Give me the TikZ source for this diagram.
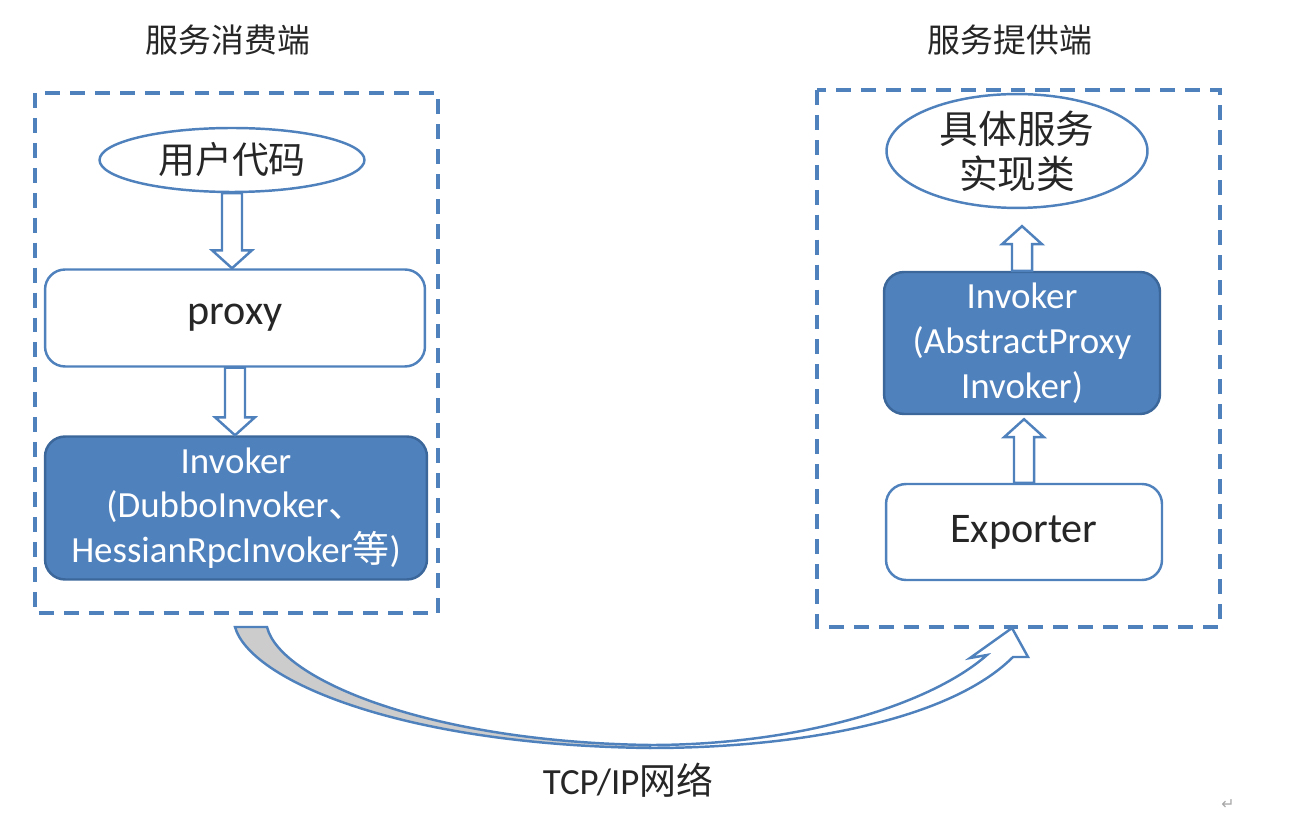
\documentclass[tikz,border=0pt]{standalone}
\usepackage{fontspec}
\setmainfont{Carlito}
\newfontfamily\cjk{Noto Sans CJK SC}
\newfontfamily\symfont{DejaVu Sans}
\usetikzlibrary{shapes.geometric,calc}
\definecolor{officeblue}{HTML}{4F81BD}
\definecolor{darkblue}{HTML}{3B679B}
\definecolor{textgray}{HTML}{262626}
\tikzset{
  dashbox/.style={draw=officeblue,line width=1.8pt,dash pattern=on 8.5pt off 5.7pt},
  ellnode/.style={ellipse,draw=officeblue,line width=1.4pt,fill=white,text=textgray,inner sep=0pt},
  whitebox/.style={rectangle,rounded corners=0.4cm,draw=officeblue,line width=1.4pt,fill=white,text=textgray,font=\fontsize{24}{28}\selectfont},
  bluebox/.style={rectangle,rounded corners=0.4cm,draw=darkblue,line width=1.4pt,fill=officeblue,text=white,align=center,font=\fontsize{21}{25.5}\selectfont},
  hollow/.style={draw=officeblue,line width=1.4pt,fill=white,line join=miter},
  title/.style={text=textgray,font=\cjk\fontsize{18.7}{22}\selectfont}
}
% hollow block arrows, shaft from #1 to tip #2
\newcommand{\downarrowblk}[2]{\draw[hollow] let \p1=(#1), \p2=(#2) in (\x1-5.7pt,\y1) -- (\x1-5.7pt,\y2+10.2pt) -- (\x1-11.3pt,\y2+10.2pt) -- (\x1,\y2) -- (\x1+11.3pt,\y2+10.2pt) -- (\x1+5.7pt,\y2+10.2pt) -- (\x1+5.7pt,\y1) -- cycle;}
\newcommand{\uparrowblk}[2]{\draw[hollow] let \p1=(#1), \p2=(#2) in (\x1-5.7pt,\y1) -- (\x1-5.7pt,\y2-10.2pt) -- (\x1-11.3pt,\y2-10.2pt) -- (\x1,\y2) -- (\x1+11.3pt,\y2-10.2pt) -- (\x1+5.7pt,\y2-10.2pt) -- (\x1+5.7pt,\y1) -- cycle;}
\begin{document}
\begin{tikzpicture}[x=0.02cm,y=-0.02cm]
	\useasboundingbox (0,0) rectangle (1310,830);
	% consumer side
	\node[title] (consumer) at (228,40) {服务消费端};
	\draw[dashbox] (35,93) rectangle (438,613);
	\node[ellnode,minimum width=5.3cm,minimum height=1.28cm,font=\cjk\fontsize{21}{25}\selectfont] (usercode) at (232,160) {用户代码};
	\node[whitebox,minimum width=7.6cm,minimum height=1.94cm] (proxy) at (235,318) {\raisebox{-3pt}{proxy}};
	\node[bluebox,minimum width=7.64cm,minimum height=2.86cm] (cinvoker) at (236,508) {Invoker\\(DubboInvoker{\cjk 、}\\HessianRpcInvoker{\cjk 等})};
	\downarrowblk{usercode.south}{proxy.north}
	\downarrowblk{proxy.south}{cinvoker.north}
	% provider side
	\node[title] (provider) at (1010,40) {服务提供端};
	\draw[dashbox] (817,90) rectangle (1220,627);
	\node[ellnode,minimum width=5.22cm,minimum height=1.86cm,align=center,font=\cjk\fontsize{22}{25.5}\selectfont] (impl) at (1017,151) {具体服务\\实现类};
	\node[bluebox,minimum width=5.52cm,minimum height=2.84cm] (pinvoker) at (1022,343) {Invoker\\(AbstractProxy\\Invoker)};
	\node[whitebox,minimum width=5.52cm,minimum height=1.92cm] (exporter) at (1024,532) {\raisebox{-2pt}{Exporter}};
	\uparrowblk{pinvoker.north}{$(impl.south)+(0,17)$}
	\uparrowblk{exporter.north}{$(pinvoker.south)+(0,4)$}
	% network arrow
	\draw[hollow,fill=gray!40] (235,627) -- (267,627) .. controls (280,680) and (430,742) .. (650,745) -- (650,748) .. controls (400,745) and (250,680) .. (235,627) -- cycle;
	\draw[hollow] (650,745) .. controls (800,745) and (930,705) .. (987,655) -- (970,658) -- (1012,628) -- (1028,657) -- (1013,657) .. controls (950,720) and (800,748) .. (650,748) -- cycle;
	\node[text=textgray,font=\fontsize{21}{25}\selectfont] (tcpip) at (628,780) {TCP/IP{\cjk 网络}};
	\node[text=gray!70,font=\symfont\fontsize{9}{10}\selectfont] (retmark) at (1228,805) {↵};
\end{tikzpicture}
\end{document}
